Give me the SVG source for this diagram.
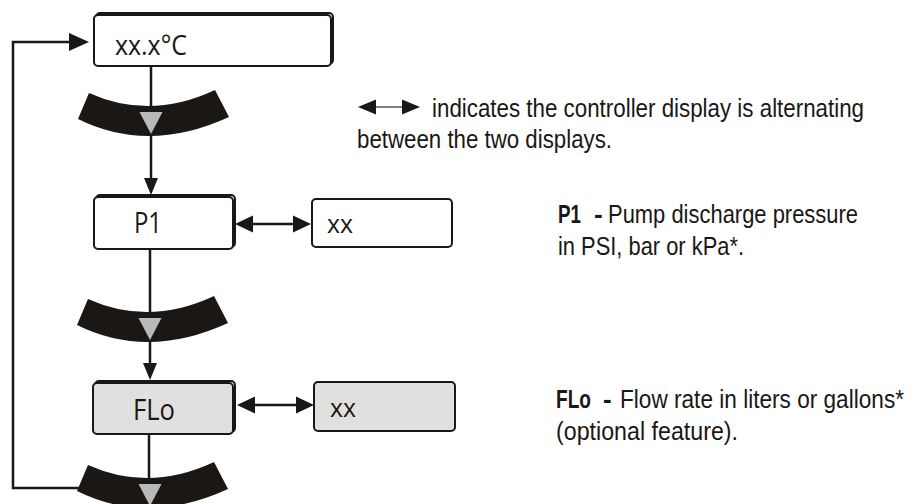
<svg xmlns="http://www.w3.org/2000/svg" width="912" height="504" viewBox="0 0 912 504">
<defs>
<style>
.ln{stroke:#1a1714;stroke-width:2.5;fill:none}
.box{stroke:#1a1714;stroke-width:2;fill:#ffffff}
.boxg{stroke:#1a1714;stroke-width:2;fill:#e0e0df}
.shadow{stroke:#1a1714;stroke-width:2;fill:none}
.ah{fill:#1a1714}
.band{fill:#1a1714}
.tri{fill:#b9b9b9}
.bt{font-family:"Open Sans","Noto Sans",sans-serif;fill:#1a1714}
.rt{font-family:"Liberation Sans Narrow","Liberation Sans",Arial,sans-serif;font-size:26px;fill:#1a1714}
.rb{font-weight:bold}
</style>
<path id="bandshape" d="M -62,-13 Q -1,14.5 64,-16 L 78,11 Q -2.5,48 -73,13 Z"/>
<path id="trishape" d="M -11.5,6 H 11.5 L 0,28 Z"/>
</defs>
<rect width="912" height="504" fill="#ffffff"/>

<g id="connectors">
<path class="ln" d="M 151,67 V 180"/>
<path class="ah" d="M 144,178 H 158 L 151,195 Z"/>
<path class="ln" d="M 150,250 V 365"/>
<path class="ah" d="M 143,363 H 157 L 150,380 Z"/>
<path class="ln" d="M 149,434 V 480"/>
<path class="ln" d="M 79,488 H 13 V 42 H 72"/>
<path class="ah" d="M 69,33 L 89,42 L 69,51 Z"/>
<path class="ln" d="M 250,224 H 296"/>
<path class="ah" d="M 235,224 L 253,215.5 V 232.5 Z"/>
<path class="ah" d="M 311,224 L 293,215.5 V 232.5 Z"/>
<path class="ln" d="M 252,405 H 298"/>
<path class="ah" d="M 237,405 L 255,396.5 V 413.5 Z"/>
<path class="ah" d="M 314,405 L 296,396.5 V 413.5 Z"/>
</g>

<g id="band1">
<use href="#bandshape" class="band" transform="translate(151,106)"/>
<use href="#trishape" class="tri" transform="translate(151,106)"/>
</g>
<g id="band2">
<use href="#bandshape" class="band" transform="translate(150,312)"/>
<use href="#trishape" class="tri" transform="translate(150,312)"/>
</g>
<g id="band3">
<use href="#bandshape" class="band" transform="translate(150,478)"/>
<use href="#trishape" class="tri" transform="translate(150,478)"/>
</g>

<g id="node-temp">
<rect class="shadow" x="96" y="13" width="237" height="51" rx="4"/>
<rect class="box" x="94" y="15" width="237" height="51" rx="4"/>
<text class="bt" x="115" y="55" font-size="27" textLength="72" lengthAdjust="spacingAndGlyphs">xx.x°C</text>
</g>

<g id="node-p1">
<rect class="shadow" x="96" y="195" width="139" height="52" rx="4"/>
<rect class="box" x="94" y="197" width="139" height="52" rx="4"/>
<text class="bt" x="134" y="233" font-size="29" textLength="28" lengthAdjust="spacingAndGlyphs">P1</text>
</g>

<g id="node-p1-value">
<rect class="box" x="312" y="199" width="140" height="48" rx="4"/>
<text class="bt" x="327" y="233" font-size="26" textLength="26" lengthAdjust="spacingAndGlyphs">xx</text>
</g>

<g id="node-flo">
<rect class="shadow" x="95" y="381" width="140" height="51" rx="4"/>
<rect class="boxg" x="93" y="383" width="140" height="51" rx="4"/>
<text class="bt" x="133" y="420" font-size="29" textLength="42" lengthAdjust="spacingAndGlyphs">FLo</text>
</g>

<g id="node-flo-value">
<rect class="boxg" x="314" y="382" width="141" height="49" rx="4"/>
<text class="bt" x="330" y="417" font-size="26" textLength="26" lengthAdjust="spacingAndGlyphs">xx</text>
</g>

<g id="legend">
<path d="M 372,107 H 406" stroke="#555" stroke-width="1.5"/>
<path class="ah" d="M 358,107 L 376,99.5 V 114.5 Z"/>
<path class="ah" d="M 420,107 L 402,99.5 V 114.5 Z"/>
<text class="rt" x="432" y="117" textLength="432" lengthAdjust="spacingAndGlyphs">indicates the controller display is alternating</text>
<text class="rt" x="357" y="148" textLength="255" lengthAdjust="spacingAndGlyphs">between the two displays.</text>
</g>

<g id="desc-p1">
<text class="rt rb" x="558" y="223" textLength="23" lengthAdjust="spacingAndGlyphs">P1</text>
<text class="rt rb" x="594" y="223">-</text>
<text class="rt" x="608" y="223" textLength="250" lengthAdjust="spacingAndGlyphs">Pump discharge pressure</text>
<text class="rt" x="558" y="255" textLength="186" lengthAdjust="spacingAndGlyphs">in PSI, bar or kPa*.</text>
</g>

<g id="desc-flo">
<text class="rt rb" x="556" y="408" textLength="35" lengthAdjust="spacingAndGlyphs">FLo</text>
<text class="rt rb" x="603" y="408">-</text>
<text class="rt" x="620" y="408" textLength="284" lengthAdjust="spacingAndGlyphs">Flow rate in liters or gallons*</text>
<text class="rt" x="556" y="440" textLength="182" lengthAdjust="spacingAndGlyphs">(optional feature).</text>
</g>
</svg>
